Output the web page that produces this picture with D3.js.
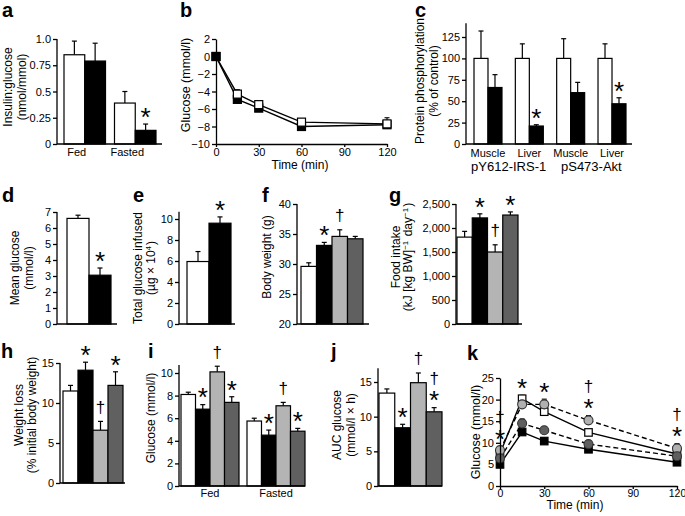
<!DOCTYPE html>
<html><head><meta charset="utf-8">
<script src="https://cdn.jsdelivr.net/npm/d3@7"></script>
<style>body{margin:0;background:#fff}svg{display:block}</style>
</head><body><script>
// ================= DATA =================
// a
const aGroups = ["Fed", "Fasted"];
const aValues = [[0.85, 0.79], [0.39, 0.13]];
const aErrors = [[0.13, 0.17], [0.11, 0.06]];
const aSig = [["", ""], ["", "*"]];
const aTicks = [0, 0.25, 0.5, 0.75, 1.0];
const aTickLabels = ["0", "0.25", "0.5", "0.75", "1.0"];
// b
const bTimes = [0, 15, 30, 60, 120];
const bControl = [0, -4.3, -5.5, -7.5, -7.7];
const bControlErr = [0.2, 0.5, 0.3, 0.3, 0.7];
const bTreated = [0, -4.9, -5.9, -8.0, -7.8];
const bTreatedErr = [0.2, 0.3, 0.3, 0.3, 0.3];
const bYTicks = [-10, -8, -6, -4, -2, 0, 2];
const bXTicks = [0, 30, 60, 90, 120];
// c
const cTissues = ["Muscle", "Liver", "Muscle", "Liver"];
const cProteins = ["pY612-IRS-1", "pS473-Akt"];
const cValues = [[100, 66], [100, 21], [100, 60], [100, 47]];
const cErrors = [[32, 15], [17, 1.5], [23, 12], [17, 7]];
const cSig = [["", ""], ["", "*"], ["", ""], ["", "*"]];
const cTicks = [0, 25, 50, 75, 100, 125];
// d
const dValues = [6.6, 3.05];
const dErrors = [0.2, 0.45];
const dSig = ["", "*"];
const dTicks = [0, 1, 2, 3, 4, 5, 6, 7];
// e
const eValues = [5.95, 9.6];
const eErrors = [0.95, 0.6];
const eSig = ["", "*"];
const eTicks = [0, 2, 4, 6, 8, 10];
// f
const fValues = [29.6, 33.1, 34.6, 34.2];
const fErrors = [0.6, 0.5, 1.1, 0.4];
const fSig = ["", "*", "†", ""];
const fTicks = [20, 25, 30, 35, 40];
// g
const gValues = [1810, 2210, 1500, 2270];
const gErrors = [120, 85, 150, 65];
const gSig = ["", "*", "†", "*"];
const gTicks = [0, 500, 1000, 1500, 2000, 2500];
// h
const hValues = [11.5, 14.1, 6.6, 12.2];
const hErrors = [0.7, 1.0, 1.1, 1.7];
const hSig = ["", "*", "†", "*"];
const hTicks = [0, 5, 10, 15];
// i
const iGroups = ["Fed", "Fasted"];
const iValues = [[8.1, 6.8, 10.1, 7.4], [5.75, 4.5, 7.1, 4.85]];
const iErrors = [[0.2, 0.4, 0.5, 0.5], [0.25, 0.45, 0.3, 0.25]];
const iSig = [["", "*", "†", "*"], ["", "*", "†", "*"]];
const iTicks = [0, 2, 4, 6, 8, 10];
// j
const jValues = [13.4, 8.4, 14.9, 10.7];
const jErrors = [0.6, 0.5, 1.4, 0.6];
const jSig = ["", "*", "†", "†*"];
const jTicks = [0, 5, 10, 15];
// k
const kTimes = [0, 15, 30, 60, 120];
const kControl = [7.5, 20.2, 17.2, 12.4, 7.4];
const kControlErr = [0.5, 0.8, 0.8, 0.6, 0.5];
const kTreated = [5.0, 12.5, 10.4, 8.5, 5.5];
const kTreatedErr = [0.3, 0.5, 0.4, 0.4, 0.3];
const kLight = [8.3, 18.9, 18.9, 15.2, 8.7];
const kLightErr = [0.8, 0.8, 1.2, 1.1, 1.1];
const kDark = [6.4, 14.5, 12.9, 9.7, 6.9];
const kDarkErr = [0.6, 1.0, 0.8, 0.6, 0.5];
const kSig = ["†*", "*", "*", "†*", "†*"];
const kYTicks = [0, 5, 10, 15, 20, 25];
const kXTicks = [0, 30, 60, 90, 120];

// ================= STYLE =================
const FONT = '"Liberation Sans", Arial, Helvetica, sans-serif';
const FILLS = ["#ffffff", "#000000", "#b4b4b4", "#606060"];
const AX_W = 1.3;
const num = d3.format("~g");

const svg = d3.select("body").append("svg")
  .attr("width", 685).attr("height", 516)
  .style("font-family", FONT);

function panelLetter(t, x, y) {
  svg.append("text").attr("x", x).attr("y", y).attr("font-size", 20)
    .attr("font-weight", "bold").attr("fill", "#000").text(t);
}

function yLabel(lines, xs, cy, size) {
  lines.forEach((ln, i) => {
    const t = svg.append("text")
      .attr("transform", `translate(${xs[i]},${cy}) rotate(-90)`)
      .attr("text-anchor", "middle").attr("font-size", size || 12).attr("fill", "#000");
    ln.forEach(part => {
      if (typeof part === "object") {
        t.append("tspan").attr("dy", -4).attr("font-size", 8).text(part.s);
        t.append("tspan").attr("dy", 4).text("\u200A");
      } else t.append("tspan").text(part);
    });
  });
}

function marks(g, x, yTop, str) {
  let base = yTop - 6;
  Array.from(str).reverse().forEach(c => {
    if (c === "*") {
      const h = 12, cy = base - h / 2;
      g.append("text").attr("x", x).attr("y", cy + 0.53 * 26).attr("font-size", 26)
        .attr("text-anchor", "middle").attr("fill", "#000").text("*");
      base -= h + 3;
    } else {
      const h = 15, cy = base - h / 2;
      g.append("text").attr("x", x).attr("y", cy + 0.29 * 17).attr("font-size", 17)
        .attr("text-anchor", "middle").attr("fill", "#000").text("†");
      base -= h + 3;
    }
  });
}

function leftAxis(y, ticks, fmt, x, topVal) {
  const ax = d3.axisLeft(y).tickValues(ticks).tickSize(4).tickPadding(2).tickSizeOuter(0)
    .tickFormat(fmt || num);
  const g = svg.append("g").attr("transform", `translate(${x},0)`).call(ax)
    .attr("font-family", FONT).attr("font-size", 11);
  g.select(".domain").remove();
  g.append("line").attr("x1", 0).attr("x2", 0)
    .attr("y1", y(y.domain()[0])).attr("y2", y(topVal))
    .attr("stroke", "#000").attr("stroke-width", AX_W);
  g.selectAll(".tick line").attr("stroke", "#000").attr("stroke-width", AX_W);
  g.selectAll(".tick text").attr("fill", "#000");
  return g;
}

function barPanel(cfg) {
  const y = d3.scaleLinear().domain(cfg.yDom).range(cfg.yPx);
  const nG = cfg.values.length, nS = cfg.values[0].length;
  const gx = d3.scaleBand().domain(d3.range(nG)).range(cfg.groupRange)
    .paddingInner(cfg.pad || 0).paddingOuter(0);
  const sx = d3.scaleBand().domain(d3.range(nS)).range([0, gx.bandwidth()]);
  const g = svg.append("g");
  const base = y(cfg.yDom[0]);
  cfg.values.forEach((row, gi) => {
    row.forEach((v, si) => {
      const x0 = gx(gi) + sx(si), w = sx.bandwidth(), cx = x0 + w / 2;
      const e = cfg.errors[gi][si];
      g.append("line").attr("x1", cx).attr("x2", cx).attr("y1", y(v)).attr("y2", y(v + e))
        .attr("stroke", "#000").attr("stroke-width", 1.2);
      g.append("line").attr("x1", cx - 2.5).attr("x2", cx + 2.5).attr("y1", y(v + e)).attr("y2", y(v + e))
        .attr("stroke", "#000").attr("stroke-width", 1.2);
      g.append("rect").attr("x", x0).attr("y", y(v)).attr("width", w).attr("height", base - y(v))
        .attr("fill", FILLS[si]).attr("stroke", "#000").attr("stroke-width", 1.2);
      if (cfg.sig && cfg.sig[gi][si]) marks(g, cx, y(v + e), cfg.sig[gi][si]);
    });
    if (cfg.labels) {
      g.append("text").attr("x", gx(gi) + gx.bandwidth() / 2 + (cfg.labelDx || 0)).attr("y", cfg.labelY)
        .attr("text-anchor", "middle").attr("font-size", 11).attr("fill", "#000").text(cfg.labels[gi]);
    }
  });
  svg.append("line").attr("x1", cfg.axisX).attr("x2", cfg.axisEnd).attr("y1", base).attr("y2", base)
    .attr("stroke", "#000").attr("stroke-width", AX_W);
  leftAxis(y, cfg.ticks, cfg.fmt, cfg.axisX, cfg.topVal);
  return { y, gx, sx };
}

function marker(g, type, x, y, fill, size) {
  if (type === "sq") {
    g.append("rect").attr("x", x - size / 2).attr("y", y - size / 2).attr("width", size).attr("height", size)
      .attr("fill", fill).attr("stroke", "#000").attr("stroke-width", 1.2);
  } else {
    g.append("circle").attr("cx", x).attr("cy", y).attr("r", size / 2)
      .attr("fill", fill).attr("stroke", "#333").attr("stroke-width", 1.1);
  }
}

function linePanel(cfg) {
  const x = d3.scaleLinear().domain(cfg.xDom).range(cfg.xPx);
  const y = d3.scaleLinear().domain(cfg.yDom).range(cfg.yPx);
  const g = svg.append("g");
  const line = d3.line().x((d, i) => x(cfg.times[i])).y(d => y(d));
  cfg.series.forEach(s => {
    g.append("path").attr("d", line(s.values)).attr("fill", "none").attr("stroke", "#000")
      .attr("stroke-width", 1.4).attr("stroke-dasharray", s.dash || null);
  });
  cfg.series.forEach(s => {
    s.values.forEach((v, i) => {
      const e = s.err[i], cx = x(cfg.times[i]);
      g.append("line").attr("x1", cx).attr("x2", cx).attr("y1", y(v)).attr("y2", y(v + e)).attr("stroke", "#000").attr("stroke-width", 1.1);
      g.append("line").attr("x1", cx - 2.5).attr("x2", cx + 2.5).attr("y1", y(v + e)).attr("y2", y(v + e)).attr("stroke", "#000").attr("stroke-width", 1.1);
    });
  });
  const pts = [];
  cfg.series.forEach((s, si) => s.values.forEach((v, i) => pts.push({ v, i, s, si })));
  if (cfg.sortMarkers) pts.sort((a, b) => (a.v - b.v) || (a.si - b.si));
  pts.forEach(p => marker(g, p.s.type, x(cfg.times[p.i]), y(p.v), p.s.fill, p.s.size));
  const ax = svg.append("g").attr("transform", `translate(${cfg.xPx[0]},0)`)
    .call(d3.axisLeft(y).tickValues(cfg.yTicks).tickSize(4).tickPadding(2).tickSizeOuter(0).tickFormat(num))
    .attr("font-family", FONT).attr("font-size", 11);
  const bx = svg.append("g").attr("transform", `translate(0,${cfg.yPx[0]})`)
    .call(d3.axisBottom(x).tickValues(cfg.xTicks).tickSize(cfg.xTickSize || 4).tickPadding(cfg.xTickPad || 1)
      .tickSizeOuter(0).tickFormat(num))
    .attr("font-family", FONT).attr("font-size", cfg.xTickFont || 11);
  [ax, bx].forEach(a => {
    a.selectAll("path,line").attr("stroke", "#000").attr("stroke-width", AX_W);
    a.selectAll("text").attr("fill", "#000");
  });
  return { x, y, g };
}

// ================= PANEL a =================
panelLetter("a", 2, 17);
barPanel({ yDom: [0, 1], yPx: [144, 39], axisX: 57, axisEnd: 162, topVal: 1.0,
  groupRange: [64, 156], pad: 0.178, values: aValues, errors: aErrors, sig: aSig,
  ticks: aTicks, fmt: (d, i) => aTickLabels[i], labels: aGroups, labelY: 156, labelDx: -8 });
yLabel([["Insulin:glucose"], ["(nmol/mmol)"]], [12, 26], 87);

// ================= PANEL b =================
panelLetter("b", 180, 17);
linePanel({ xDom: [0, 120], xPx: [216, 387], yDom: [-10, 2], yPx: [144, 39], times: bTimes,
  yTicks: bYTicks, xTicks: bXTicks, sortMarkers: true, xTickSize: 3, xTickPad: 1,
  series: [
    { values: bControl, err: bControlErr, type: "sq", fill: "#fff", size: 8 },
    { values: bTreated, err: bTreatedErr, type: "sq", fill: "#000", size: 8 }
  ] });
svg.append("text").attr("x", 300).attr("y", 169).attr("text-anchor", "middle").attr("font-size", 12).text("Time (min)");
yLabel([["Glucose (mmol/l)"]], [190], 85, 12.5);

// ================= PANEL c =================
panelLetter("c", 415, 17);
const cp = barPanel({ yDom: [0, 125], yPx: [144, 37], axisX: 466, axisEnd: 632, topVal: 141,
  groupRange: [474, 626], pad: 0.323, values: cValues, errors: cErrors, sig: cSig,
  ticks: cTicks, labels: cTissues, labelY: 157 });
cProteins.forEach((p, i) => {
  const cx = (cp.gx(2 * i) + cp.gx(2 * i + 1) + cp.gx.bandwidth()) / 2;
  svg.append("text").attr("x", cx).attr("y", 171).attr("text-anchor", "middle").attr("font-size", 13).text(p);
});
yLabel([["Protein phosphorylation"], ["(% of control)"]], [424, 438], 81);

// ================= PANEL d =================
panelLetter("d", 2, 202);
barPanel({ yDom: [0, 7], yPx: [324, 212], axisX: 57, axisEnd: 117, topVal: 7,
  groupRange: [67, 111], values: [dValues], errors: [dErrors], sig: [dSig], ticks: dTicks });
yLabel([["Mean glucose"], ["(mmol/l)"]], [19, 33], 268);

// ================= PANEL e =================
panelLetter("e", 133, 202);
barPanel({ yDom: [0, 10], yPx: [324, 219], axisX: 179, axisEnd: 235, topVal: 10.7,
  groupRange: [187, 231], values: [eValues], errors: [eErrors], sig: [eSig], ticks: eTicks });
yLabel([["Total glucose infused"], ["(\u00B5g \u00D7 10", { s: "4" }, ")"]], [142, 155], 268);

// ================= PANEL f =================
panelLetter("f", 262, 202);
barPanel({ yDom: [20, 40], yPx: [324, 204], axisX: 297, axisEnd: 369, topVal: 40,
  groupRange: [301, 363], values: [fValues], errors: [fErrors], sig: [fSig], ticks: fTicks });
yLabel([["Body weight (g)"]], [271], 257);

// ================= PANEL g =================
panelLetter("g", 389, 202);
barPanel({ yDom: [0, 2500], yPx: [324, 204], axisX: 456, axisEnd: 522, topVal: 2500,
  groupRange: [457, 518], values: [gValues], errors: [gErrors], sig: [gSig], ticks: gTicks,
  fmt: d3.format(",") });
yLabel([["Food intake"], ["(kJ [kg BW]", { s: "\u22121" }, " day", { s: "\u22121" }, ")"]], [400, 412], 257);

// ================= PANEL h =================
panelLetter("h", 1, 358);
barPanel({ yDom: [0, 15], yPx: [483, 363], axisX: 60, axisEnd: 125, topVal: 15,
  groupRange: [63, 123], values: [hValues], errors: [hErrors], sig: [hSig], ticks: hTicks });
yLabel([["Weight loss"], ["(% initial body weight)"]], [23, 36], 415);

// ================= PANEL i =================
panelLetter("i", 148, 358);
barPanel({ yDom: [0, 10], yPx: [486, 373], axisX: 179, axisEnd: 305, topVal: 10.7,
  groupRange: [181, 305], pad: 0.121, values: iValues, errors: iErrors, sig: iSig,
  ticks: iTicks, labels: iGroups, labelY: 497 });
yLabel([["Glucose (mmol/l)"]], [155], 418);

// ================= PANEL j =================
panelLetter("j", 331, 358);
barPanel({ yDom: [0, 15], yPx: [486, 382], axisX: 378, axisEnd: 442, topVal: 17,
  groupRange: [379, 442], values: [jValues], errors: [jErrors], sig: [jSig], ticks: jTicks });
yLabel([["AUC glucose"], ["(mmol/l \u00D7 h)"]], [341, 355], 425);

// ================= PANEL k =================
panelLetter("k", 467, 360);
const kSeries = [
  { values: kControl, err: kControlErr, type: "sq", fill: "#fff", size: 7.5 },
  { values: kTreated, err: kTreatedErr, type: "sq", fill: "#000", size: 7.5 },
  { values: kLight, err: kLightErr, type: "ci", fill: "#b0b0b0", size: 9, dash: "5,3" },
  { values: kDark, err: kDarkErr, type: "ci", fill: "#5e5e5e", size: 9, dash: "5,3" }
];
const kp = linePanel({ xDom: [0, 120], xPx: [500, 677], yDom: [0, 25], yPx: [486, 378], times: kTimes,
  yTicks: kYTicks, xTicks: kXTicks, series: kSeries, xTickSize: 3, xTickPad: 0, xTickFont: 10.5 });
kTimes.forEach((t, i) => {
  const top = d3.max(kSeries, s => s.values[i] + s.err[i]);
  marks(kp.g, kp.x(t), kp.y(top), kSig[i]);
});
svg.append("text").attr("x", 575).attr("y", 509).attr("text-anchor", "middle").attr("font-size", 12).text("Time (min)");
yLabel([["Glucose (mmol/l)"]], [480], 432, 12.5);
</script></body></html>
